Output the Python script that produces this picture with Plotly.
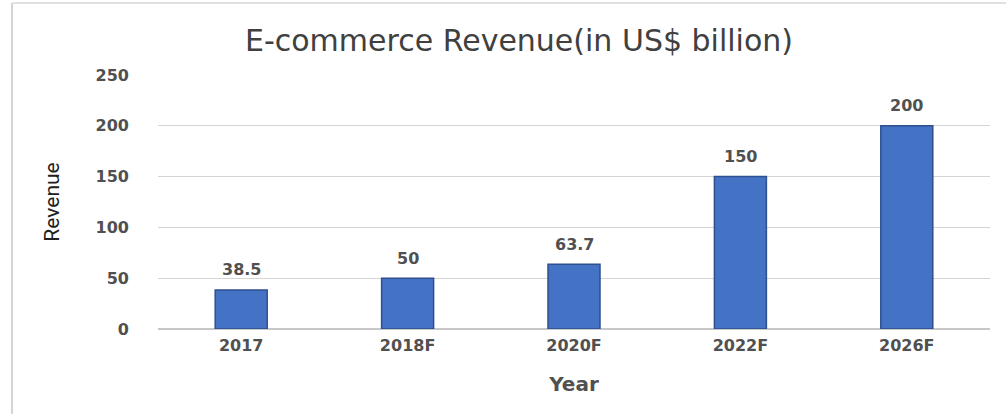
import plotly.graph_objects as go

years = ["2017", "2018F", "2020F", "2022F", "2026F"]
revenue = [38.5, 50, 63.7, 150, 200]
y_ticks = [0, 50, 100, 150, 200, 250]

W, H = 1006, 414
L, R, T, B = 158, 16, 75, 85
pw, ph = W - L - R, H - T - B

TEXT = "#505050"
LABEL_FONT = dict(family="DejaVu Sans", size=16, color=TEXT, weight="bold")


def px_x(x):
    return (x - L) / pw


def px_y(y):
    return (H - B - y) / ph


fig = go.Figure(go.Bar(
    x=years,
    y=revenue,
    marker=dict(color="#4472C4", line=dict(color="#2F4F8F", width=1.5)),
    hoverinfo="x+y",
))

# value labels above each bar (category axis: position by category index)
for i, v in enumerate(revenue):
    fig.add_annotation(
        x=i, y=v, text=f"{v:g}", showarrow=False,
        yanchor="middle", yshift=20, font=LABEL_FONT,
    )

fig.update_layout(
    width=W, height=H,
    margin=dict(l=L, r=R, t=T, b=B),
    paper_bgcolor="white",
    plot_bgcolor="white",
    bargap=0.6875,
    showlegend=False,
    title=dict(
        text="E-commerce Revenue(in US$ billion)",
        x=519 / W, xanchor="center", xref="container",
        y=1 - 40 / H, yanchor="middle", yref="container",
        font=dict(family="DejaVu Sans", size=30, color="#404040"),
    ),
    xaxis=dict(
        type="category",
        range=[-0.5, len(years) - 0.5],
        showgrid=False,
        showline=False,
        ticks="",
        tickfont=LABEL_FONT,
        ticklabelstandoff=5,
        title=dict(text="Year",
                   font=dict(family="DejaVu Sans", size=20, color=TEXT, weight="bold"),
                   standoff=22),
    ),
    yaxis=dict(
        range=[0, 250],
        tickvals=y_ticks,
        showgrid=True,
        gridcolor="#d4d4d4",
        gridwidth=1.3,
        zeroline=True,
        zerolinecolor="#c8c8c8",
        zerolinewidth=1.5,
        ticks="",
        tickfont=LABEL_FONT,
        ticklabelstandoff=28,
        title=dict(text="Revenue",
                   font=dict(family="Roboto", size=21, color="#202020"),
                   standoff=30),
    ),
    shapes=[
        dict(type="line", xref="paper", yref="paper",
             x0=px_x(12), x1=px_x(12), y0=px_y(3), y1=px_y(H + 5),
             line=dict(color="#d4d4d4", width=2)),
        dict(type="line", xref="paper", yref="paper",
             x0=px_x(12), x1=px_x(W + 5), y0=px_y(3), y1=px_y(3),
             line=dict(color="#e0e0e0", width=2)),
    ],
)

fig.write_html("out.html")
